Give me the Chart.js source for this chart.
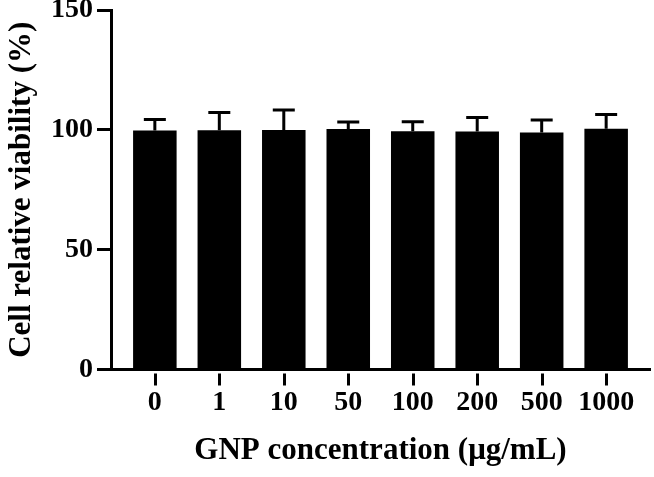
<!DOCTYPE html>
<html>
<head>
<meta charset="utf-8">
<script src="https://cdn.jsdelivr.net/npm/chart.js@4"></script>
<style>
  html, body { margin: 0; padding: 0; background: #fff; }
  canvas { display: block; }
</style>
</head>
<body>
<canvas id="viabChart" width="654" height="477"></canvas>
<script>
const concentrations = ['0', '1', '10', '50', '100', '200', '500', '1000'];
const viability      = [99.7, 99.8, 99.9, 100.3, 99.4, 99.3, 98.9, 100.4];
const viabilitySD    = [4.6, 7.4, 8.4, 3.0, 4.0, 5.8, 5.2, 6.0];
const yTicks         = [0, 50, 100, 150];

const FONT = "'Liberation Serif', 'Times New Roman', serif";

// barras de error (solo hacia arriba, como en el original)
const errorBarsPlugin = {
  id: 'errorBars',
  afterDatasetsDraw(chart) {
    const { ctx, scales: { x, y } } = chart;
    ctx.save();
    ctx.strokeStyle = '#000';
    ctx.lineWidth = 3;
    ctx.lineCap = 'butt';
    viability.forEach((v, i) => {
      const px = x.getPixelForValue(i);
      const yBar = y.getPixelForValue(v);
      const yTop = y.getPixelForValue(v + viabilitySD[i]);
      ctx.beginPath();
      ctx.moveTo(px, yBar);
      ctx.lineTo(px, yTop);
      ctx.moveTo(px - 11, yTop);
      ctx.lineTo(px + 11, yTop);
      ctx.stroke();
    });
    ctx.restore();
  },
};

// marcas del eje X separadas de la línea del eje (hueco de ~3px)
const xTickMarksPlugin = {
  id: 'xTickMarks',
  afterDraw(chart) {
    const { ctx, scales: { x } } = chart;
    ctx.save();
    ctx.strokeStyle = '#000';
    ctx.lineWidth = 3;
    concentrations.forEach((_, i) => {
      const px = Math.round(x.getPixelForValue(i)) + 0.5;
      ctx.beginPath();
      ctx.moveTo(px, x.top + 4);
      ctx.lineTo(px, x.top + 16);
      ctx.stroke();
    });
    ctx.restore();
  },
};

const ctx = document.getElementById('viabChart').getContext('2d');
new Chart(ctx, {
  type: 'bar',
  data: {
    datasets: [{
      data: viability.map((v, i) => ({ x: i, y: v })),
      backgroundColor: '#000',
      borderWidth: 0,
      barPercentage: 0.675,
      categoryPercentage: 1,
    }],
  },
  options: {
    responsive: false,
    animation: false,
    layout: { padding: { top: 10, right: 4, bottom: 0, left: 0 } },
    plugins: { legend: { display: false }, tooltip: { enabled: false } },
    scales: {
      x: {
        type: 'linear',
        offset: false,
        min: -0.68,
        max: 7.68,
        afterBuildTicks: s => { s.ticks = concentrations.map((_, i) => ({ value: i })); },
        afterFit: s => { s.height = 107.5; s.paddingLeft = 0; s.paddingRight = 0; },
        border: { display: true, color: '#000', width: 3 },
        grid: { offset: false, drawOnChartArea: false, drawTicks: false },
        ticks: {
          autoSkip: false,
          maxRotation: 0,
          padding: 16,
          color: '#000',
          font: { family: FONT, size: 28, weight: 'bold' },
          callback: v => concentrations[v] ?? '',
        },
        title: {
          display: true,
          text: 'GNP concentration (μg/mL)',
          color: '#000',
          font: { family: FONT, size: 31, weight: 'bold' },
          padding: { top: 0, bottom: 7 },
        },
      },
      y: {
        min: 0,
        max: 150,
        afterBuildTicks: s => { s.ticks = yTicks.map(v => ({ value: v })); },
        afterFit: s => { s.width = 111; s.paddingTop = 0; s.paddingBottom = 0; },
        border: { display: true, color: '#000', width: 3 },
        grid: { drawOnChartArea: false, drawTicks: true, tickLength: 14, tickWidth: 3, tickColor: '#000' },
        ticks: { padding: 4, color: '#000', font: { family: FONT, size: 28, weight: 'bold' } },
        title: {
          display: true,
          text: 'Cell relative viability (%)',
          color: '#000',
          font: { family: FONT, size: 31, weight: 'bold' },
          padding: { top: 3, bottom: 0 },
        },
      },
    },
  },
  plugins: [errorBarsPlugin, xTickMarksPlugin],
});
</script>
</body>
</html>
